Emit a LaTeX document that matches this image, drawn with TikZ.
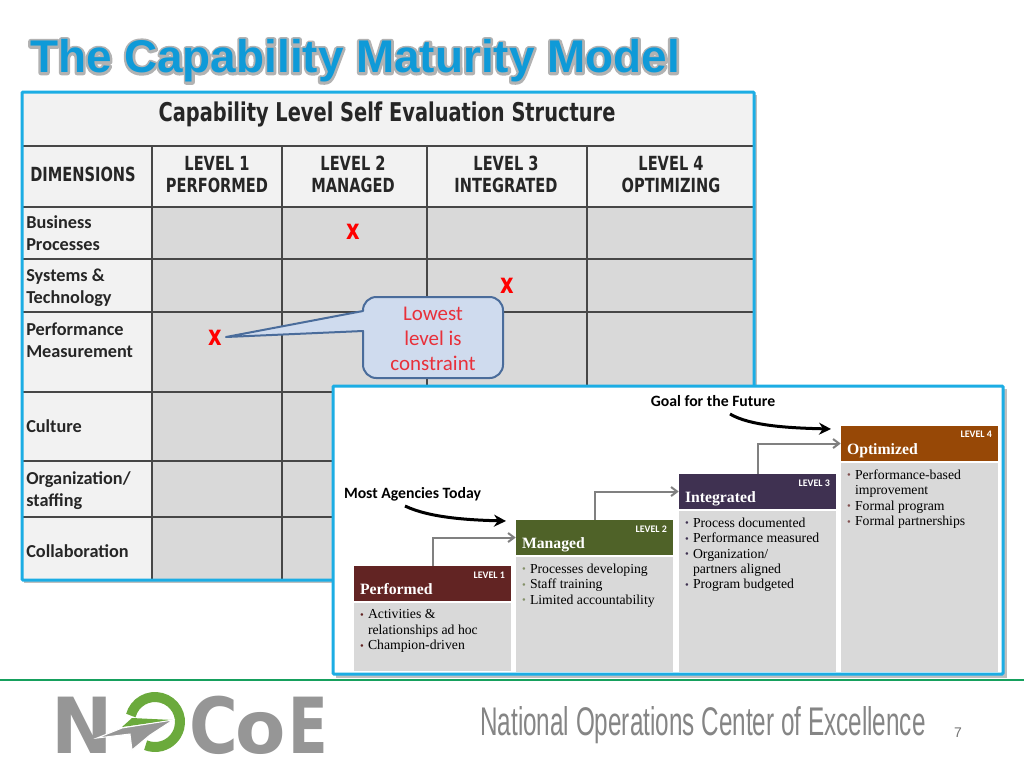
\documentclass[tikz,border=0pt]{standalone}
\usepackage{fontspec}
\setmainfont{Liberation Serif}
\newfontfamily\carlito{Carlito}
\newfontfamily\arialfont{Liberation Sans}
\newfontfamily\heavyfont{DejaVu Sans}
\newfontfamily\tablefont[FakeStretch=0.75]{DejaVu Sans}
\usetikzlibrary{arrows.meta}
\usetikzlibrary{calc}
\usetikzlibrary{positioning}
\newdimen\px
\px=0.75pt
\definecolor{panelblue}{HTML}{1CADE4}
\definecolor{titleblue}{HTML}{0F9AD8}
\definecolor{cellgrey}{HTML}{D9D9D9}
\definecolor{headgrey}{HTML}{F2F2F2}
\definecolor{logogrey}{HTML}{969696}
\definecolor{logogreen}{HTML}{6BAA3C}
\definecolor{footgreen}{HTML}{16A05D}
\definecolor{calloutfill}{HTML}{CFDBEE}
\definecolor{calloutline}{HTML}{4A6C9B}
\definecolor{calloutred}{HTML}{E8303A}
\definecolor{wine}{HTML}{622423}
\definecolor{olive}{HTML}{4F6228}
\definecolor{plum}{HTML}{3F3151}
\definecolor{rust}{HTML}{974806}
\tikzset{
	panel/.style={draw=panelblue,line width=3\px,rounded corners=1\px},
	panelshadow/.style={fill=black!25,draw=none},
	gridline/.style={draw=black!72,line width=1.5\px},
	titletext/.style={font=\arialfont\bfseries\fontsize{34.4}{36}\selectfont,inner sep=0pt},
	rowtext/.style={font=\carlito\bfseries\fontsize{13.7}{16.5}\selectfont,anchor=west,align=left,text=black!85,inner sep=0pt},
	coltext/.style={font=\tablefont\bfseries\fontsize{14.6}{16.5}\selectfont,align=center,text=black!85,inner sep=0pt},
	crossmark/.style={font=\tablefont\bfseries\fontsize{21}{21}\selectfont,text=red,inner sep=0pt},
	notetext/.style={font=\carlito\bfseries\fontsize{11.8}{12}\selectfont,inner sep=0pt},
	stepline/.style={draw=black!50,line width=2\px,-{Straight Barb[length=4.5pt,width=6.75pt]}},
	goalarrow/.style={draw=black,line width=3\px,-{Stealth[length=9pt,width=9pt]}},
	levelhead/.style={minimum width=157\px,minimum height=35\px,inner sep=0pt},
	levelbody/.style={fill=cellgrey,minimum width=157\px,inner sep=0pt,anchor=north},
	bodytext/.style={anchor=north west,inner sep=0pt,align=left,font=\fontsize{10.3}{11.6}\selectfont},
	logoletter/.style={anchor=base west,text=logogrey,inner sep=0pt},
}
\newcommand{\bul}[1]{\makebox[8\px][l]{\textcolor{#1}{\raisebox{.05ex}{\footnotesize\textbullet}}}}
\newcommand{\hng}{\hspace*{8\px}}
\newcommand{\outlined}[1]{\special{pdf:code q 2 Tr 3.6 w 1 j}#1\special{pdf:code Q}}
\newcommand{\drawlevel}[7]{
	\draw #1 node (#2) [levelhead,fill=#5] {};
	\node (#2t) [anchor=base west,font=\bfseries\fontsize{11.8}{12}\selectfont,text=white,inner sep=0pt] at ($(#2.south west)+(6,-6.5)$) {#3};
	\node (#2l) [anchor=north east,font=\carlito\bfseries\fontsize{7.5}{8}\selectfont,text=white,inner sep=0pt] at ($(#2.north east)+(-6,5.5)$) {#4};
	\node (#2b) [levelbody,minimum height=#6\px,below=1\px of #2] {};
	\node (#2x) [bodytext] at ($(#2b.north west)+(6,7)$) {#7};
}
\begin{document}
\begin{tikzpicture}[x=0.75pt,y=-0.75pt]
	\useasboundingbox (0,0) rectangle (1024,768);
	\fill[white] (0,0) rectangle (1024,768);
	% title
	\node (titleedge) [titletext,text=black!30] at (355,61) {\outlined{The Capability Maturity Model}};
	\node (title) [titletext,text=titleblue] at (355,61) {The Capability Maturity Model};
	% table
	\fill[panelshadow] (24,95) rectangle (757,583);
	\fill[headgrey] (22,92) rectangle (754,580);
	\fill[cellgrey] (152,207) rectangle (754,580);
	\foreach \y in {146,207,259,312,392,461,517} \draw[gridline] (22,\y) -- (754,\y);
	\foreach \x in {152,282,427,587} \draw[gridline,line width=2\px] (\x,146) -- (\x,580);
	\draw[panel] (22,92) rectangle (754,580);
	\node (evaltitle) [coltext,font=\tablefont\bfseries\fontsize{19.4}{20}\selectfont] at (387,114) {Capability Level Self Evaluation Structure};
	\node (dims) [coltext] at (83,174) {DIMENSIONS};
	\foreach \x/\i/\n in {217/1/PERFORMED,353/2/MANAGED,506/3/INTEGRATED,671/4/OPTIMIZING} {
		\node (col\i) [coltext] at (\x,178) {LEVEL \i\\\n\strut};
	}
	\node (rowa) [rowtext] at (26,233) {Business\\Processes};
	\node (rowb) [rowtext] at (26,288) {Systems \&\\Technology};
	\node (rowc) [rowtext] at (26,340) {Performance\\Measurement};
	\node (rowd) [rowtext] at (26,426) {Culture};
	\node (rowe) [rowtext] at (26,491) {Organization/\\staffing};
	\node (rowf) [rowtext] at (26,551) {Collaboration};
	\node (xa) [crossmark] at (353,232) {x};
	\node (xb) [crossmark] at (507,286) {x};
	\node (xc) [crossmark] at (215,338) {x};
	% callout
	\draw[fill=calloutfill,draw=calloutline,line width=2\px,line join=round] (226,337) -- (363,331) [rounded corners=10pt] -- (363,378) -- (503,378) -- (503,297) -- (363,297) [sharp corners] -- (363,311) -- cycle;
	\node (lowest) [font=\carlito\fontsize{15.7}{18.7}\selectfont,text=calloutred,align=center,inner sep=0pt] at (433,339) {Lowest\\level is\\constraint};
	% levels panel
	\fill[panelshadow] (336,389) rectangle (1007,678);
	\draw[panel,fill=white] (333,386) rectangle (1003,674);
	\drawlevel{(432.5,583.5)}{performed}{Performed}{LEVEL 1}{wine}{68}{\bul{wine}Activities \&\\\hng relationships ad hoc\\\bul{wine}Champion-driven}
	\drawlevel{(594.5,537.5)}{managed}{Managed}{LEVEL 2}{olive}{115}{\bul{olive!70}Processes developing\\\bul{olive!70}Staff training\\\bul{olive!70}Limited accountability}
	\drawlevel{(757.5,491.5)}{integrated}{Integrated}{LEVEL 3}{plum}{161}{\bul{plum}Process documented\\\bul{plum}Performance measured\\\bul{plum}Organization/\\\hng partners aligned\\\bul{plum}Program budgeted}
	\drawlevel{(919.5,443.5)}{optimized}{Optimized}{LEVEL 4}{rust}{209}{\bul{wine!80}Performance-based\\\hng improvement\\\bul{wine!80}Formal program\\\bul{wine!80}Formal partnerships}
	\draw[stepline] (performed.north) |- (managed.west);
	\draw[stepline] (managed.north) |- (integrated.west);
	\draw[stepline] (integrated.north) |- (optimized.west);
	\node (today) [notetext] at (412.5,494.5) {Most Agencies Today};
	\node (future) [notetext] at (713,401.5) {Goal for the Future};
	\coordinate (todaytip) at (506,521);
	\coordinate (futuretip) at (831,429);
	\draw[goalarrow] (405,506) .. controls (430,518) and (470,520) .. (todaytip);
	\draw[goalarrow] (730,414) .. controls (750,426) and (790,428) .. (futuretip);
	% footer
	\draw[footgreen,line width=2\px] (0,680) -- (1024,680);
	\node (footname) [font=\arialfont\fontsize{30}{32}\selectfont,text=black!48,inner sep=0pt] at (703,725) {\scalebox{.607}[1]{National Operations Center of Excellence}};
	\node (pagenum) [font=\arialfont\fontsize{10.5}{12}\selectfont,text=black!55,inner sep=0pt] at (958,733) {7};
	% logo
	\node (logon) [logoletter,font=\heavyfont\bfseries\fontsize{58}{60}\selectfont] at (51,753) {\scalebox{.95}[1]{N}};
	\node (logoc) [logoletter,font=\heavyfont\bfseries\fontsize{58}{60}\selectfont] at (189,753) {\scalebox{.86}[1]{C}};
	\node (logoo) [logoletter,font=\heavyfont\bfseries\fontsize{55}{60}\selectfont] at (235,753) {o};
	\node (logoe) [logoletter,font=\heavyfont\bfseries\fontsize{58}{60}\selectfont] at (288,753) {\scalebox{.75}[1]{E}};
	\draw[logogreen,line width=10\px] ($(155,722)+(-165:25)$) arc[start angle=-165,end angle=112,radius=25];
	\fill[logogreen] (132,718) -- (173,720) -- (122,727) -- cycle;
	\fill[logogrey,draw=white,line width=1\px] (173,720) -- (122,728) -- (97,738) -- (130,734) -- (132,750) -- (150,735) -- cycle;
\end{tikzpicture}
\end{document}
